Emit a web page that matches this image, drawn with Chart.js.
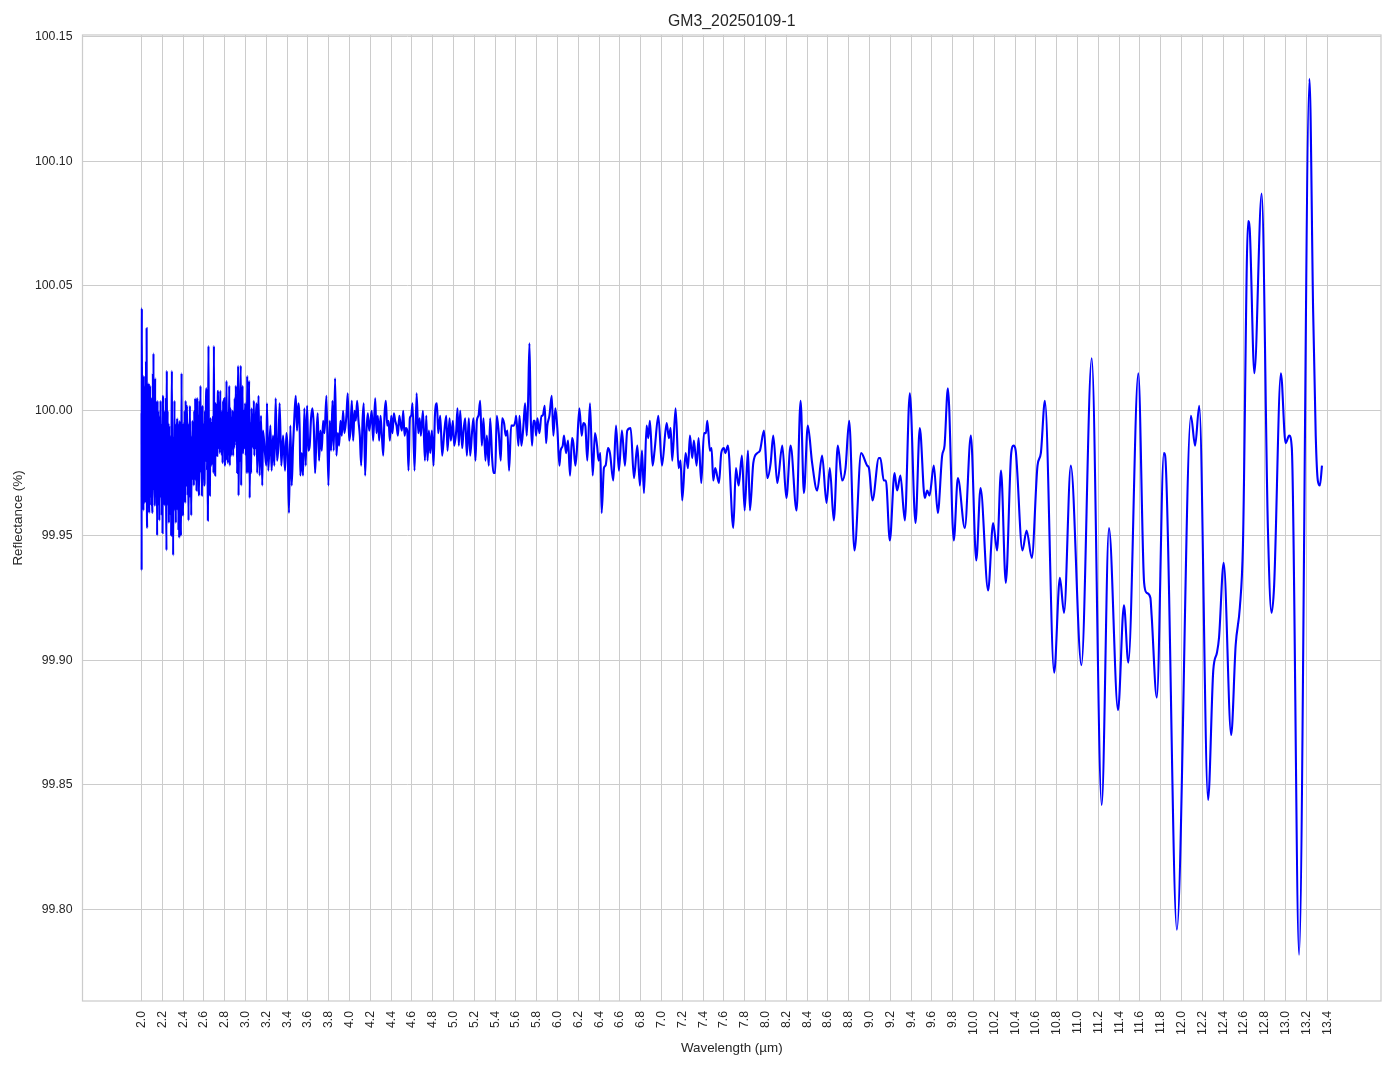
<!DOCTYPE html>
<html>
<head>
<meta charset="utf-8">
<script src="https://cdn.jsdelivr.net/npm/chart.js@4/dist/chart.umd.min.js"></script>
<style>
html,body{margin:0;padding:0;background:#ffffff;}
#wrap{width:1394px;height:1069px;position:relative;}
</style>
</head>
<body>
<div id="wrap"><canvas id="c" width="1394" height="1069"></canvas></div>
<script>
const chartTitle = "GM3_20250109-1";
const xAxisLabel = "Wavelength (µm)";
const yAxisLabel = "Reflectance (%)";
const xTickValues = [2.0,2.2,2.4,2.6,2.8,3.0,3.2,3.4,3.6,3.8,4.0,4.2,4.4,4.6,4.8,5.0,5.2,5.4,5.6,5.8,6.0,6.2,6.4,6.6,6.8,7.0,7.2,7.4,7.6,7.8,8.0,8.2,8.4,8.6,8.8,9.0,9.2,9.4,9.6,9.8,10.0,10.2,10.4,10.6,10.8,11.0,11.2,11.4,11.6,11.8,12.0,12.2,12.4,12.6,12.8,13.0,13.2,13.4];
const yTickValues = [99.80,99.85,99.90,99.95,100.00,100.05,100.10,100.15];

// [wavelength µm, reflectance %]
const spectrum2to3 = [
[2.000,99.999],[2.001,99.936],[2.003,100.041],[2.006,99.975],[2.009,100.008],[2.012,99.966],[2.015,100.012],[2.018,99.960],[2.022,100.014],[2.025,99.968],
[2.028,100.004],[2.032,99.963],[2.035,100.010],[2.039,99.970],[2.043,100.020],[2.046,99.965],[2.049,100.033],[2.052,99.960],[2.055,99.953],[2.058,100.000],
[2.061,99.970],[2.064,100.010],[2.067,99.962],[2.070,100.011],[2.074,99.959],[2.077,100.008],[2.080,99.970],[2.083,100.010],[2.087,99.965],[2.090,99.995],
[2.094,99.962],[2.098,100.005],[2.102,99.966],[2.106,99.959],[2.109,100.015],[2.112,99.975],[2.115,100.023],[2.119,99.968],[2.122,100.000],[2.125,99.962],
[2.128,99.963],[2.131,100.013],[2.135,99.970],[2.138,100.004],[2.142,99.965],[2.146,99.998],[2.150,99.950],[2.154,100.004],[2.157,99.972],[2.161,100.000],
[2.164,99.962],[2.168,99.990],[2.171,99.956],[2.175,99.998],[2.179,99.965],[2.183,100.004],[2.187,99.966],[2.190,99.995],[2.194,99.958],[2.198,99.992],
[2.202,99.951],[2.205,99.998],[2.208,100.006],[2.212,99.968],[2.216,100.000],[2.221,99.962],[2.225,99.995],[2.229,99.965],[2.233,100.005],[2.237,99.960],
[2.240,99.944],[2.243,100.016],[2.247,99.970],[2.251,100.000],[2.255,99.962],[2.259,99.995],[2.263,99.955],[2.266,99.994],[2.270,99.960],[2.274,99.990],
[2.278,99.958],[2.282,99.985],[2.285,99.950],[2.289,99.995],[2.292,100.016],[2.296,99.965],[2.300,99.990],[2.304,99.942],[2.308,99.985],[2.312,99.962],
[2.317,100.004],[2.321,99.960],[2.325,99.985],[2.330,99.955],[2.334,99.995],[2.338,99.965],[2.343,99.997],[2.347,99.960],[2.351,99.990],[2.355,99.952],
[2.358,99.995],[2.362,99.949],[2.366,99.996],[2.370,99.965],[2.374,99.992],[2.378,99.952],[2.381,99.950],[2.385,100.015],[2.389,99.962],[2.393,99.990],
[2.397,99.962],[2.401,99.958],[2.405,99.995],[2.410,99.968],[2.415,100.000],[2.420,99.963],[2.424,100.004],[2.429,99.970],[2.434,99.998],[2.439,100.002],
[2.443,99.966],[2.447,99.990],[2.452,99.956],[2.456,99.995],[2.460,99.965],[2.465,100.002],[2.470,99.970],[2.474,99.985],[2.478,99.958],[2.482,99.990],
[2.486,99.972],[2.490,99.996],[2.494,99.975],[2.499,99.990],[2.503,99.970],[2.507,100.000],[2.511,99.975],[2.516,100.005],[2.520,99.972],[2.525,99.992],
[2.529,99.968],[2.534,100.000],[2.538,100.005],[2.542,99.975],[2.546,99.998],[2.550,99.972],[2.554,99.966],[2.558,100.004],[2.562,99.978],[2.567,100.010],
[2.571,99.975],[2.576,99.995],[2.580,99.966],[2.584,99.990],[2.587,100.002],[2.591,99.975],[2.595,99.995],[2.600,99.970],[2.606,99.971],[2.610,100.000],
[2.614,99.980],[2.619,100.002],[2.625,100.009],[2.629,99.976],[2.634,99.985],[2.638,99.956],[2.641,100.000],[2.644,100.026],[2.648,99.980],[2.652,99.995],
[2.657,99.966],[2.661,99.990],[2.667,99.997],[2.671,99.978],[2.676,99.995],[2.683,99.979],[2.687,99.998],[2.692,99.975],[2.696,100.026],[2.700,99.978],
[2.704,99.990],[2.708,99.974],[2.712,100.000],[2.715,100.003],[2.720,99.982],[2.724,99.995],[2.728,99.982],[2.733,100.005],[2.737,100.008],[2.742,99.985],
[2.747,99.998],[2.753,99.983],[2.757,100.008],[2.762,99.985],[2.767,100.000],[2.772,99.982],[2.776,99.995],[2.779,99.979],[2.784,100.004],[2.790,99.985],
[2.795,100.005],[2.800,99.982],[2.804,99.978],[2.809,100.000],[2.813,99.985],[2.817,100.012],[2.822,99.980],[2.826,99.995],[2.830,99.979],[2.836,100.000],
[2.840,99.985],[2.843,100.010],[2.849,99.978],[2.853,99.995],[2.856,100.001],[2.861,99.982],[2.866,99.995],[2.872,99.985],[2.876,100.000],[2.881,99.982],
[2.886,99.998],[2.891,99.985],[2.896,100.005],[2.901,99.988],[2.907,100.010],[2.911,99.986],[2.916,99.995],[2.920,99.975],[2.925,100.000],[2.929,100.018],
[2.933,99.966],[2.938,99.990],[2.943,99.980],[2.948,100.005],[2.955,100.018],[2.958,99.970],[2.963,99.995],[2.967,99.985],[2.971,100.010],[2.975,99.983],
[2.978,99.983],[2.983,100.000],[2.989,99.985],[2.993,99.995],[2.997,100.003],[3.002,99.982],[3.008,99.990],[3.012,99.975],[3.016,100.014],[3.022,99.975],
[3.028,99.990],[3.035,100.012],[3.040,99.965],[3.046,99.995],[3.054,99.975],[3.058,100.001],[3.064,99.990],[3.070,99.998],[3.075,99.985],[3.080,100.004],
[3.085,99.982],[3.090,99.995],[3.096,99.985],[3.101,99.999],[3.106,100.003],[3.112,99.975],[3.118,99.990],[3.125,100.006]
];

const spectrum3to4p6 = [
[3.136,99.974],[3.149,99.998],[3.161,99.970],[3.168,99.992],[3.187,99.983],[3.200,99.978],[3.206,100.003],[3.219,99.976],[3.239,99.994],[3.251,99.976],
[3.264,99.990],[3.277,99.978],[3.290,100.005],[3.303,99.980],[3.316,99.986],[3.328,100.003],[3.344,99.978],[3.361,99.990],[3.380,99.976],[3.393,99.991],
[3.405,99.984],[3.418,99.959],[3.431,99.994],[3.444,99.970],[3.457,99.986],[3.470,99.998],[3.483,100.006],[3.495,99.992],[3.508,100.003],[3.521,99.992],
[3.527,99.974],[3.540,99.983],[3.553,99.974],[3.566,100.001],[3.579,99.978],[3.592,100.002],[3.604,99.984],[3.617,99.986],[3.630,99.997],[3.643,100.001],
[3.656,99.994],[3.669,99.975],[3.682,99.990],[3.694,99.999],[3.707,99.980],[3.720,99.992],[3.733,99.984],[3.746,99.996],[3.759,99.991],[3.778,100.006],
[3.797,99.970],[3.810,99.996],[3.823,99.984],[3.836,100.004],[3.848,99.984],[3.861,100.013],[3.874,99.982],[3.887,99.991],[3.900,99.986],[3.913,99.996],
[3.926,99.990],[3.938,100.000],[3.951,99.991],[3.970,99.998],[3.983,100.007],[3.996,99.988],[4.009,99.992],[4.022,100.004],[4.035,99.988],[4.048,100.000],
[4.060,99.996],[4.073,100.004],[4.086,99.996],[4.099,99.990],[4.112,99.978],[4.125,99.996],[4.137,100.003],[4.150,99.974],[4.163,99.992],[4.176,99.999],
[4.189,99.992],[4.202,99.996],[4.214,100.000],[4.227,99.988],[4.247,100.005],[4.259,99.991],[4.272,99.998],[4.285,99.988],[4.298,99.998],[4.311,99.990],
[4.324,99.982],[4.336,99.998],[4.349,100.004],[4.362,99.994],[4.375,99.996],[4.388,99.988],[4.401,99.998],[4.413,99.991],[4.426,99.999],[4.439,99.996],
[4.452,99.994],[4.465,99.990],[4.478,99.998],[4.490,99.995],[4.503,99.992],[4.516,100.000],[4.529,99.990],[4.542,99.993],[4.555,99.992],[4.567,99.976],
[4.580,99.997],[4.593,99.998],[4.606,100.003],[4.625,99.976],[4.645,100.007]
];

const spectrum4p6to6p4 = [
[4.661,99.991],[4.674,99.997],[4.686,99.990],[4.706,100.000],[4.725,99.980],[4.738,99.998],[4.750,99.980],[4.763,99.992],[4.776,99.983],[4.792,99.992],
[4.808,99.978],[4.821,99.998],[4.840,100.003],[4.853,99.991],[4.872,99.998],[4.891,99.982],[4.910,99.991],[4.930,99.998],[4.942,99.984],[4.962,99.997],
[4.974,99.988],[4.994,99.996],[5.006,99.986],[5.026,99.992],[5.038,100.001],[5.051,99.986],[5.064,100.000],[5.083,99.985],[5.096,99.992],[5.112,99.997],
[5.128,99.982],[5.147,99.997],[5.160,99.982],[5.179,99.992],[5.192,99.997],[5.211,99.980],[5.224,99.996],[5.240,99.998],[5.256,100.004],[5.272,99.986],
[5.288,99.997],[5.307,99.980],[5.320,99.990],[5.339,99.978],[5.352,99.997],[5.371,99.981],[5.384,99.975],[5.400,99.975],[5.416,99.998],[5.435,99.991],
[5.454,99.980],[5.467,99.997],[5.486,99.995],[5.502,99.990],[5.518,99.992],[5.534,99.976],[5.554,99.994],[5.576,99.994],[5.595,99.996],[5.602,99.998],
[5.624,99.986],[5.634,99.998],[5.653,99.986],[5.672,99.994],[5.688,100.003],[5.704,99.990],[5.717,100.004],[5.730,100.027],[5.742,99.998],[5.755,99.986],
[5.768,99.996],[5.781,99.996],[5.794,99.990],[5.806,99.997],[5.826,99.991],[5.845,99.998],[5.858,99.998],[5.877,100.002],[5.890,99.987],[5.902,99.994],
[5.922,99.998],[5.944,100.006],[5.960,99.990],[5.979,100.001],[5.998,99.993],[6.018,99.978],[6.030,99.984],[6.050,99.986],[6.062,99.990],[6.082,99.983],
[6.101,99.988],[6.120,99.974],[6.139,99.989],[6.152,99.987],[6.171,99.978],[6.184,99.983],[6.210,100.001],[6.232,99.990],[6.248,99.995],[6.267,99.994],
[6.286,99.980],[6.312,100.003],[6.338,99.974],[6.360,99.991],[6.380,99.986],[6.395,99.980],[6.412,99.983]
];

const spectrum6p4to8p4 = [
[6.424,99.959],[6.446,99.977],[6.462,99.978],[6.485,99.985],[6.504,99.983],[6.536,99.972],[6.562,99.994],[6.590,99.976],[6.619,99.992],[6.648,99.978],
[6.670,99.992],[6.703,99.993],[6.735,99.973],[6.767,99.986],[6.792,99.970],[6.812,99.984],[6.831,99.967],[6.856,99.994],[6.872,99.989],[6.888,99.996],
[6.914,99.978],[6.933,99.984],[6.969,99.998],[7.004,99.978],[7.049,99.995],[7.071,99.989],[7.087,99.993],[7.103,99.980],[7.135,100.001],[7.164,99.977],
[7.183,99.980],[7.199,99.964],[7.231,99.983],[7.254,99.977],[7.273,99.990],[7.295,99.981],[7.311,99.988],[7.337,99.978],[7.356,99.989],[7.382,99.971],
[7.408,99.991],[7.427,99.991],[7.440,99.996],[7.465,99.984],[7.481,99.985],[7.497,99.972],[7.516,99.977],[7.552,99.971],[7.574,99.983],[7.600,99.985],
[7.613,99.983],[7.638,99.986],[7.690,99.953],[7.715,99.977],[7.741,99.970],[7.773,99.982],[7.799,99.960],[7.831,99.984],[7.850,99.960],[7.882,99.979],
[7.920,99.983],[7.946,99.984],[7.985,99.992],[8.017,99.973],[8.049,99.979],[8.074,99.990],[8.113,99.971],[8.161,99.986],[8.200,99.965],[8.241,99.986],
[8.298,99.960],[8.337,100.004],[8.369,99.967],[8.406,99.994]
];

const spectrum8p4to10p2 = [
[8.448,99.979],[8.496,99.968],[8.544,99.982],[8.586,99.963],[8.618,99.977],[8.656,99.956],[8.695,99.986],[8.737,99.972],[8.769,99.977],[8.804,99.996],
[8.855,99.944],[8.919,99.983],[8.977,99.978],[8.994,99.977],[9.028,99.964],[9.089,99.981],[9.104,99.981],[9.137,99.972],[9.157,99.972],[9.195,99.948],
[9.240,99.975],[9.265,99.968],[9.297,99.974],[9.339,99.956],[9.387,100.007],[9.442,99.955],[9.483,99.993],[9.531,99.965],[9.554,99.968],[9.576,99.966],
[9.618,99.978],[9.656,99.959],[9.698,99.982],[9.721,99.986],[9.753,100.009],[9.810,99.948],[9.849,99.973],[9.916,99.953],[9.974,99.990],[10.026,99.940],
[10.067,99.969],[10.140,99.928],[10.188,99.955]
];

const spectrum10p2to11p8 = [
[10.226,99.944],[10.264,99.976],[10.310,99.931],[10.362,99.983],[10.385,99.986],[10.405,99.984],[10.470,99.944],[10.510,99.952],[10.560,99.941],[10.615,99.978],
[10.647,99.983],[10.686,100.004],[10.775,99.895],[10.830,99.933],[10.870,99.919],[10.935,99.978],[11.037,99.898],[11.136,100.021],[11.232,99.842],[11.302,99.953],
[11.389,99.880],[11.446,99.922],[11.488,99.899],[11.584,100.015]
];

const spectrum11p6to13p4 = [
[11.640,99.931],[11.665,99.927],[11.700,99.925],[11.712,99.918],[11.762,99.885],[11.830,99.983],[11.842,99.982],[11.955,99.792],[12.090,99.998],[12.130,99.986],
[12.170,100.002],[12.255,99.844],[12.305,99.896],[12.340,99.903],[12.360,99.909],[12.405,99.939],[12.477,99.870],[12.520,99.906],[12.560,99.921],[12.590,99.946],
[12.640,100.076],[12.655,100.073],[12.700,100.015],[12.770,100.087],[12.830,99.953],[12.865,99.919],[12.890,99.930],[12.955,100.015],[13.000,99.987],[13.035,99.990],
[13.060,99.985],[13.130,99.782],[13.230,100.133],[13.265,100.040],[13.290,99.990],[13.310,99.972],[13.330,99.970],[13.350,99.978]
];

const FONT = "'Liberation Sans', Arial, Helvetica, sans-serif";
const TEXT_COLOR = '#262626';
const GRID_COLOR = '#cccccc';

const points = [].concat(spectrum2to3, spectrum3to4p6, spectrum4p6to6p4, spectrum6p4to8p4,
  spectrum8p4to10p2, spectrum10p2to11p8, spectrum11p6to13p4).map(p => ({x: p[0], y: p[1]}));

const framePlugin = {
  id: 'frame',
  afterDatasetsDraw(chart) {
    const a = chart.chartArea, ctx = chart.ctx;
    ctx.save();
    ctx.strokeStyle = GRID_COLOR;
    ctx.lineWidth = 1.25;
    ctx.strokeRect(a.left, a.top, a.right - a.left, a.bottom - a.top);
    ctx.restore();
  }
};

new Chart(document.getElementById('c').getContext('2d'), {
  type: 'line',
  data: {
    datasets: [{
      data: points,
      borderColor: '#0000ff',
      borderWidth: 2.1,
      pointRadius: 0,
      fill: false,
      cubicInterpolationMode: 'monotone'
    }]
  },
  options: {
    responsive: false,
    animation: false,
    devicePixelRatio: 1,
    layout: {padding: {left: 0, right: 13, top: 0, bottom: 0}},
    plugins: {
      legend: {display: false},
      tooltip: {enabled: false},
      title: {
        display: true, text: chartTitle, color: TEXT_COLOR,
        fullSize: false,
        font: {family: FONT, size: 15.8, weight: 'normal'},
        padding: {top: 12, bottom: 4}
      }
    },
    scales: {
      x: {
        type: 'linear',
        min: 1.4325,
        max: 13.9175,
        afterBuildTicks: s => { s.ticks = xTickValues.map(v => ({value: v})); },
        afterFit: s => { s.height = 68; },
        ticks: {
          callback: v => Number(v).toFixed(1),
          minRotation: 90, maxRotation: 90, autoSkip: false,
          padding: 10, color: TEXT_COLOR,
          font: {family: FONT, size: 12.3}
        },
        grid: {color: GRID_COLOR, lineWidth: 1, drawTicks: false},
        border: {display: false},
        title: {
          display: true, text: xAxisLabel, color: TEXT_COLOR,
          font: {family: FONT, size: 13.4}, padding: {top: 0, bottom: 13}
        }
      },
      y: {
        type: 'linear',
        min: 99.7634,
        max: 100.1506,
        afterBuildTicks: s => { s.ticks = yTickValues.map(v => ({value: v})); },
        afterFit: s => { s.width = 82.5; },
        ticks: {
          callback: v => Number(v).toFixed(2),
          padding: 10, color: TEXT_COLOR,
          font: {family: FONT, size: 12.3}
        },
        grid: {color: GRID_COLOR, lineWidth: 1, drawTicks: false},
        border: {display: false},
        title: {
          display: true, text: yAxisLabel, color: TEXT_COLOR,
          font: {family: FONT, size: 13.4}, padding: {top: 10, bottom: 0}
        }
      }
    }
  },
  plugins: [framePlugin]
});
</script>
</body>
</html>
